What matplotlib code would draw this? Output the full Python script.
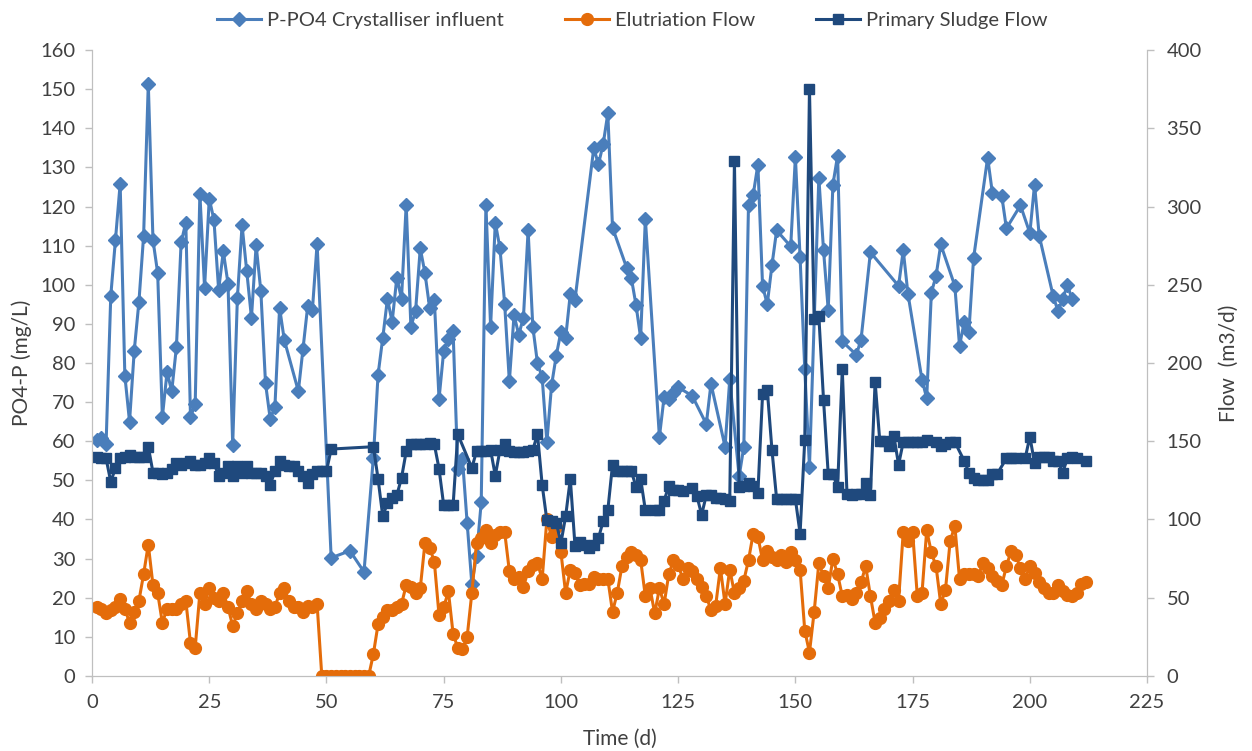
import numpy as np
import matplotlib.pyplot as plt

plt.rcParams['font.family'] = ['Lato', 'DejaVu Sans']

# P-PO4 crystalliser influent (mg/L), left axis
po4_days = [1, 2, 3, 4, 5, 6, 7, 8, 9, 10, 11, 12, 13, 14, 15, 16, 17, 18, 19, 20,
            21, 22, 23, 24, 25, 26, 27, 28, 29, 30, 31, 32, 33, 34, 35, 36, 37, 38, 39, 40,
            41, 44, 45, 46, 47, 48, 51, 55, 58, 60, 61, 62, 63, 64, 65, 66, 67, 68, 69, 70,
            71, 72, 73, 74, 75, 76, 77, 78, 79, 80, 81, 82, 83, 84, 85, 86, 87, 88, 89, 90,
            91, 92, 93, 94, 95, 96, 97, 98, 99, 100, 101, 102, 103, 107, 108, 109, 110, 111,
            114, 115, 116, 117, 118, 121, 122, 123, 124, 125, 128, 131, 132, 135, 136, 138,
            139, 140, 141, 142, 143, 144, 145, 146, 149, 150, 151, 152, 153, 155, 156, 157,
            158, 159, 160, 163, 164, 166, 172, 173, 174, 177, 178, 179, 180, 181, 184, 185,
            186, 187, 188, 191, 192, 194, 195, 198, 200, 201, 202, 205, 206, 207, 208, 209]
po4_vals = [60.3, 60.8, 59.4, 97.2, 111.5, 125.8, 76.8, 65.0, 83.1, 95.6,
            112.5, 151.4, 111.4, 103.0, 66.2, 77.7, 72.8, 84.1, 110.8, 115.9,
            66.2, 69.5, 123.3, 99.2, 122.0, 116.6, 98.7, 108.5, 100.3, 59.1,
            96.7, 115.2, 103.4, 91.6, 110.1, 98.4, 74.8, 65.7, 68.8, 94.1,
            85.9, 72.8, 83.7, 94.6, 93.6, 110.5, 30.2, 32.0, 26.6, 55.8,
            77.0, 86.4, 96.4, 90.5, 101.8, 96.4, 120.5, 89.3, 93.3, 109.3,
            103.0, 94.1, 96.2, 70.8, 83.1, 86.2, 88.2, 52.9, 55.5, 39.1,
            23.5, 30.7, 44.4, 120.5, 89.3, 115.9, 109.3, 95.1, 75.3, 92.3,
            87.2, 91.6, 113.9, 89.3, 79.9, 76.3, 59.8, 74.3, 81.9, 88.0,
            86.4, 97.7, 96.2, 134.9, 130.8, 135.9, 143.8, 114.6,
            104.4, 101.8, 94.9, 86.4, 116.9, 61.1, 71.3, 70.8, 72.4, 73.8, 71.6, 64.4,
            74.7, 58.6, 75.8, 51.0,
            58.6, 120.5, 123.0, 130.7, 99.7, 95.0, 105.0, 113.9, 109.8, 132.7, 107.0, 78.4,
            53.4, 127.4, 108.8, 93.6,
            125.6, 133.0, 85.5, 82.1, 86.0, 108.3, 99.7, 108.8, 97.7, 75.7, 71.0, 98.0,
            102.3, 110.3, 99.7, 84.4,
            90.5, 88.0, 106.8, 132.5, 123.5, 122.8, 114.4, 120.3, 113.2, 125.6, 112.5, 97.0,
            93.3, 96.3, 100.0, 96.3]

# Elutriation flow (m3/d), right axis, days 1..212
elut_days = list(range(1, 213))
elut_vals = [44, 43, 40, 42, 44, 49, 43, 34, 41, 48,
             65, 84, 58, 53, 34, 43, 43, 43, 46, 48,
             21, 18, 53, 46, 56, 50, 48, 53, 44, 32,
             40, 48, 54, 46, 43, 48, 46, 43, 44, 53,
             56, 48, 44, 44, 41, 45, 44, 46, 0, 0,
             0, 0, 0, 0, 0, 0, 0, 0, 0, 14,
             33, 38, 42, 42, 44, 46, 58, 57, 53, 56,
             85, 82, 73, 39, 44, 54, 27, 18, 17, 25,
             53, 85, 88, 93, 85, 90, 92, 92, 67, 62,
             63, 57, 67, 71, 72, 62, 100, 89, 95, 79,
             53, 68, 66, 58, 59, 59, 63, 62, 62, 62,
             41, 53, 70, 76, 79, 77, 74, 51, 56, 40,
             56, 46, 65, 74, 71, 62, 69, 67, 62, 57,
             51, 42, 45, 69, 46, 68, 53, 56, 61, 74,
             91, 89, 74, 80, 76, 74, 77, 73, 79, 74,
             68, 29, 15, 41, 72, 64, 56, 75, 65, 51,
             52, 49, 53, 60, 70, 51, 34, 37, 43, 48,
             55, 48, 92, 86, 92, 51, 53, 93, 79, 70,
             46, 55, 86, 96, 62, 65, 65, 65, 64, 72,
             69, 64, 61, 58, 70, 80, 77, 69, 62, 70,
             66, 60, 56, 53, 53, 58, 54, 52, 51, 53,
             59, 60]

# Primary sludge flow (m3/d), right axis
sludge_days = [1, 2, 3, 4, 5, 6, 7, 8, 9, 10, 11, 12, 13, 14, 15, 16, 17, 18, 19, 20,
               21, 22, 23, 24, 25, 26, 27, 28, 29, 30, 31, 32, 33, 34, 35, 36, 37, 38, 39, 40,
               41, 42, 43, 44, 45, 46, 47, 48, 49, 50, 51, 60, 61, 62, 63, 64, 65, 66, 67, 68,
               69, 70, 71, 72, 73, 74, 75, 76, 77, 78, 81, 82, 83, 84, 85, 86, 87, 88, 89, 90,
               91, 92, 93, 94, 95, 96, 97, 98, 99, 100, 101, 102, 103, 104, 105, 106, 107, 108,
               109, 110, 111, 112, 113, 114, 115, 116, 117, 118, 120, 121, 122, 123, 124, 125,
               126, 128, 129, 130, 131, 132, 133, 134, 135, 136, 137, 138, 139, 140, 141, 142,
               143, 144, 145, 146, 147, 148, 149, 150, 151, 152, 153, 154, 155, 156, 157, 158,
               159, 160, 161, 162, 163, 164, 165, 166, 167, 168, 169, 170, 171, 172, 173, 174,
               175, 176, 177, 178, 180, 181, 182, 183, 184, 186, 187, 188, 189, 190, 191, 192,
               193, 195, 196, 197, 199, 200, 201, 202, 203, 204, 205, 206, 207, 208, 209, 210, 212]
sludge_vals = [140, 139.5, 139, 124, 133, 139.5, 140, 141, 140, 140,
               140, 146.5, 130, 130, 129, 130, 132.5, 136, 135, 136,
               137.5, 135, 135, 136, 139.5, 136, 128, 130, 134, 128,
               134, 130, 134, 130, 130, 130, 128, 122, 131, 137.5,
               135, 134, 134, 131, 128, 123.5, 129, 131, 131, 131,
               145, 146.5, 126, 102, 110.5, 114, 115.5, 126.5, 143.5, 148.5,
               148.5, 148, 148.5, 149, 148, 132.5, 109, 109, 109, 154.5,
               133, 143.5, 143.5, 143.5, 144.5, 128, 144.5, 148, 143.5, 143,
               143, 143, 143.5, 144.5, 154.5, 122, 99.5, 99, 98, 85,
               102, 126, 83, 85.5, 83.5, 82, 83.5, 88,
               99, 106, 135, 131, 131, 131, 131, 121, 126, 106,
               106, 106, 112, 121.5, 119, 119,
               118.5, 120, 115, 103, 115.5, 115.5, 114, 114, 113, 112,
               329, 120.5, 121.5, 123, 121.5, 117,
               180, 183, 144.5, 113, 113, 113, 113, 113, 91, 151,
               375, 228, 230, 176.5, 129, 129,
               120.5, 196, 116.5, 115.5, 116.5, 116.5, 123, 115.5, 188, 150,
               150, 147, 153.5, 135, 149.5, 149.5,
               149.5, 149.5, 149.5, 151, 149.5, 147, 148.5, 149.5, 149.5, 137.5,
               130, 126.5, 125, 125, 125, 129,
               129, 139, 139, 139, 139, 153, 136, 140, 140, 140,
               137.5, 137.5, 130, 139, 140, 139, 137.5]

c_po4 = '#4A7EBB'
c_elut = '#E46C0A'
c_sludge = '#1F497D'
grey = '#BFBFBF'
txt = '#404040'

fig = plt.figure(figsize=(12.52, 7.51), dpi=100)
ax = fig.add_axes([0.0735, 0.0999, 0.8427, 0.8335])
ax2 = ax.twinx()

l1, = ax.plot(po4_days, po4_vals, color=c_po4, lw=2.2, marker='D', ms=7.5,
              label='P-PO4 Crystalliser influent')
l2, = ax2.plot(elut_days, elut_vals, color=c_elut, lw=2.2, marker='o', ms=8.5,
               label='Elutriation Flow')
l3, = ax2.plot(sludge_days, sludge_vals, color=c_sludge, lw=2.2, marker='s', ms=7,
               label='Primary Sludge Flow')

ax.set_xlim(0, 225)
ax.set_ylim(0, 160)
ax2.set_ylim(0, 400)
ax.set_xticks(np.arange(0, 226, 25))
ax.set_yticks(np.arange(0, 161, 10))
ax2.set_yticks(np.arange(0, 401, 50))

for a in (ax, ax2):
    for s in a.spines.values():
        s.set_color(grey)
    a.spines['top'].set_visible(False)
    a.tick_params(colors=grey, labelcolor=txt, labelsize=14.5, length=5, width=1)
ax.tick_params(axis='x', pad=8)
ax.tick_params(axis='y', pad=7)
ax2.tick_params(axis='y', pad=9)

ax.set_xlabel('Time (d)', fontsize=15, color=txt, labelpad=13)
ax.set_ylabel('PO4-P (mg/L)', fontsize=15, color=txt, labelpad=6)
ax2.set_ylabel('Flow  (m3/d)', fontsize=15, color=txt, labelpad=12)

fig.legend(handles=[l1, l2, l3], loc='upper center', bbox_to_anchor=(0.505, 1.008),
           ncol=3, frameon=False, fontsize=14.5, handlelength=2.2, columnspacing=3.0,
           handletextpad=0.3, labelcolor=txt)

fig.savefig('out.png', dpi=100)
